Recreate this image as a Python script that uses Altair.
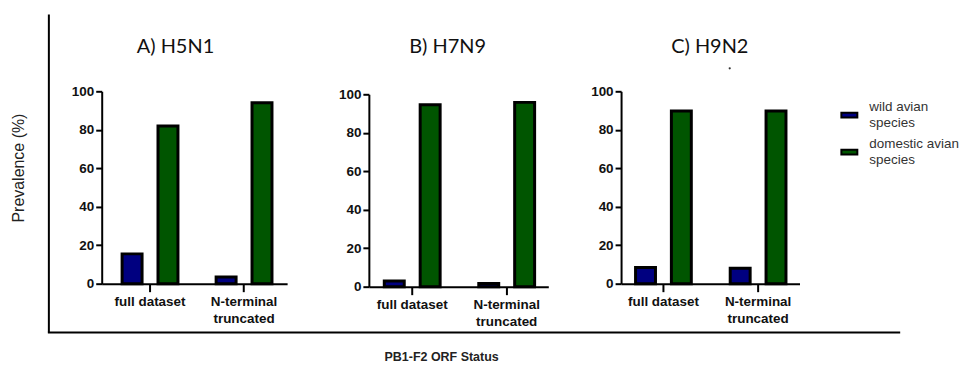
import altair as alt
import pandas as pd

# ---- data -------------------------------------------------------------
statuses = ["full dataset", "N-terminal truncated"]
species = ["wild avian species", "domestic avian species"]
panel_titles = ["A) H5N1", "B) H7N9", "C) H9N2"]
wild_values = [[15.5, 3.5], [3.0, 1.7], [8.4, 8.0]]
domestic_values = [[82.0, 94.0], [94.6, 95.8], [89.7, 89.7]]
y_ticks = [0, 20, 40, 60, 80, 100]
species_colors = ["#000080", "#005500"]
y_axis_title = "Prevalence (%)"
x_axis_title = "PB1-F2 ORF Status"

# ---- layout / style ---------------------------------------------------
cell_widths = [195, 180, 179]
cell_heights = [193, 196, 193]
x_ranges = [186, 180, 179]
y_tops = [0, 3, 0]
pad_inner = [0.406, 0.409, 0.411]
pad_outer = [0.189, 0.154, 0.148]
band_align = [0.574, 0.53, 0.517]
title_x = [74, 79, 89]
SANS = "Liberation Sans, Arial, sans-serif"

one_row = pd.DataFrame({"n": [0]})

x_label_expr = "length(datum.label) > 14 ? split(datum.label, ' ') : datum.label"
legend_label_expr = ("[substring(datum.label, 0, lastindexof(datum.label, ' ')), "
                     "substring(datum.label, lastindexof(datum.label, ' ') + 1)]")

legend = alt.Legend(
    title=None, orient="none", legendX=741, legendY=15,
    symbolType="M-1,-0.3H1V0.3H-1Z", symbolSize=256,
    symbolStrokeColor="black", symbolStrokeWidth=2,
    labelFont=SANS, labelFontSize=13.5, labelColor="#333333",
    labelOffset=11, rowPadding=8, padding=0, labelLimit=300,
    labelBaseline="line-bottom",
    labelExpr=legend_label_expr,
)


def make_panel(i):
    df = pd.DataFrame({
        "status": statuses * 2,
        "species": [species[0]] * 2 + [species[1]] * 2,
        "value": wild_values[i] + domestic_values[i],
    })
    bars = alt.Chart(df).mark_bar(stroke="black", strokeWidth=3).encode(
        x=alt.X("status:N", sort=statuses, title=None,
                scale=alt.Scale(range=[0, x_ranges[i]], paddingInner=pad_inner[i],
                                paddingOuter=pad_outer[i], align=band_align[i]),
                axis=alt.Axis(labelExpr=x_label_expr, labelAngle=0, tickSize=8,
                              labelPadding=3, labelBaseline="top", labelLineHeight=17)),
        xOffset=alt.XOffset("species:N", sort=species,
                            scale=alt.Scale(paddingInner=0.444, paddingOuter=0)),
        y=alt.Y("value:Q", title=None,
                scale=alt.Scale(domain=[0, 100], nice=False,
                                range=[cell_heights[i], y_tops[i]]),
                axis=alt.Axis(values=y_ticks, tickSize=6, labelPadding=2)),
        color=alt.Color("species:N", sort=species,
                        scale=alt.Scale(domain=species, range=species_colors),
                        legend=legend),
    )
    title = alt.Chart(one_row).mark_text(
        font="Lato", fontSize=20, color="#111111", baseline="alphabetic", align="center"
    ).encode(x=alt.value(title_x[i]), y=alt.value(-38), text=alt.value(panel_titles[i]))
    layers = [bars, title]
    if i == 0:
        frame_left = alt.Chart(one_row).mark_rule(color="black", strokeWidth=2).encode(
            x=alt.value(-53), y=alt.value(-77), y2=alt.value(242))
        frame_bottom = alt.Chart(one_row).mark_rule(color="black", strokeWidth=2).encode(
            x=alt.value(-54), x2=alt.value(801), y=alt.value(242))
        ytitle = alt.Chart(one_row).mark_text(
            angle=270, font=SANS, fontSize=16, color="#222222", baseline="middle", align="center"
        ).encode(x=alt.value(-83), y=alt.value(77), text=alt.value(y_axis_title))
        xtitle = alt.Chart(one_row).mark_text(
            font=SANS, fontSize=12.5, fontWeight="bold", color="#222222",
            baseline="middle", align="center"
        ).encode(x=alt.value(341), y=alt.value(267), text=alt.value(x_axis_title))
        layers += [frame_left, frame_bottom, ytitle, xtitle]
    if i == 2:
        dot = alt.Chart(one_row).mark_point(filled=True, size=5, color="#333333", opacity=1).encode(
            x=alt.value(109), y=alt.value(-23))
        layers.append(dot)
    return alt.layer(*layers).properties(width=cell_widths[i], height=cell_heights[i])


chart = alt.hconcat(
    *[make_panel(i) for i in range(3)], spacing=73, bounds="flush"
).resolve_scale(
    x="independent", y="independent", xOffset="independent", color="shared"
).properties(
    padding={"left": 3, "top": 5, "right": 0, "bottom": 0}
).configure_view(
    stroke=None
).configure_axis(
    grid=False, domainColor="black", domainWidth=2, tickColor="black", tickWidth=2,
    labelFont=SANS, labelFontWeight="bold", labelFontSize=13.5, labelColor="#111111",
)

chart.save("out.html", embed_options={"renderer": "svg", "actions": False})
